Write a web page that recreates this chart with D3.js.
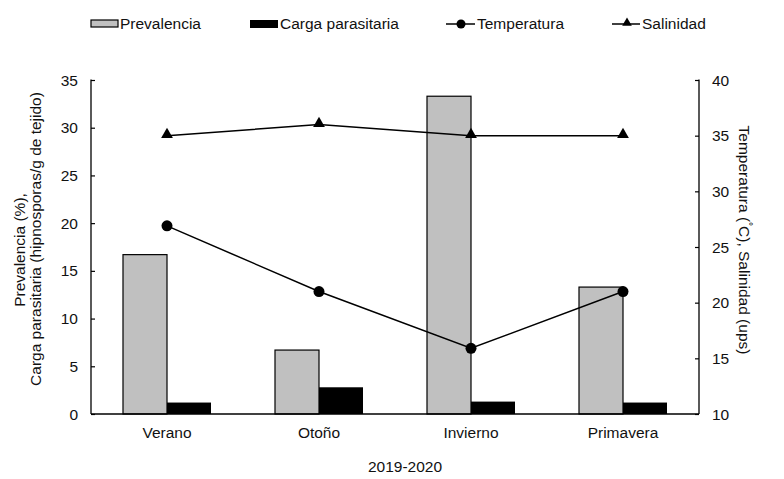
<html>
<head>
<script src="https://d3js.org/d3.v7.min.js"></script>
<style>
  body { margin: 0; background: #fff; }
  text { font-family: "Liberation Sans", Arial, sans-serif; fill: #111; }
</style>
</head>
<body>
<svg id="chart" width="784" height="479"></svg>
<script>
const estaciones = ["Verano", "Otoño", "Invierno", "Primavera"];
const prevalencia = [16.7, 6.7, 33.3, 13.3];
const carga = [1.2, 2.8, 1.3, 1.2];
const temperatura = [26.9, 21.0, 15.9, 21.0];
const salinidad = [35, 36, 35, 35];
const ticksIzq = [0, 5, 10, 15, 20, 25, 30, 35];
const ticksDer = [10, 15, 20, 25, 30, 35, 40];

const svg = d3.select("svg#chart");
const margin = { top: 80, right: 85, bottom: 65, left: 91 };
const width = +svg.attr("width");
const height = +svg.attr("height");
const x0 = margin.left, x1 = width - margin.right;
const y0 = height - margin.bottom, y1 = margin.top;

const xScale = d3.scaleBand().domain(estaciones).range([x0, x1])
    .paddingInner(64 / 152).paddingOuter(32 / 152);
const xSub = d3.scaleBand().domain(["prev", "carga"]).range([0, xScale.bandwidth()]);
const yLeft = d3.scaleLinear().domain([0, 35]).range([y0, y1]);
const yRight = d3.scaleLinear().domain([10, 40]).range([y0, y1]);
const cx = d => xScale(d) + xScale.bandwidth() / 2;

// bars
const g = svg.append("g");
g.selectAll("rect.prev").data(estaciones).join("rect")
    .attr("class", "prev")
    .attr("x", d => xScale(d) + xSub("prev"))
    .attr("width", xSub.bandwidth())
    .attr("y", (d, i) => yLeft(prevalencia[i]))
    .attr("height", (d, i) => y0 - yLeft(prevalencia[i]))
    .attr("fill", "#c0c0c0").attr("stroke", "#000").attr("stroke-width", 1.2);
g.selectAll("rect.carga").data(estaciones).join("rect")
    .attr("class", "carga")
    .attr("x", d => xScale(d) + xSub("carga"))
    .attr("width", xSub.bandwidth())
    .attr("y", (d, i) => yLeft(carga[i]))
    .attr("height", (d, i) => y0 - yLeft(carga[i]))
    .attr("fill", "#000");

// axes
const axL = svg.append("g").attr("transform", `translate(${x0},0)`)
    .call(d3.axisRight(yLeft).tickValues(ticksIzq).tickSize(4).tickFormat(""));
const axR = svg.append("g").attr("transform", `translate(${x1},0)`)
    .call(d3.axisLeft(yRight).tickValues(ticksDer).tickSize(4).tickFormat(""));
[axL, axR].forEach(a => {
  a.select(".domain").attr("stroke", "#000").attr("stroke-width", 1.3).attr("d", `M0,${y1 - 0.5}V${y0}`);
  a.selectAll(".tick line").attr("stroke", "#000").attr("stroke-width", 1.2);
});
svg.append("line").attr("x1", x0).attr("x2", x1).attr("y1", y0).attr("y2", y0)
    .attr("stroke", "#000").attr("stroke-width", 1.3);

svg.append("g").selectAll("text").data(ticksIzq).join("text")
    .attr("x", x0 - 13).attr("y", d => yLeft(d) + 5.5)
    .attr("text-anchor", "end").style("font-size", "15.5px").text(d => d);
svg.append("g").selectAll("text").data(ticksDer).join("text")
    .attr("x", x1 + 13).attr("y", d => yRight(d) + 5.5)
    .attr("text-anchor", "start").style("font-size", "15.5px").text(d => d);

svg.append("g").selectAll("text").data(estaciones).join("text")
    .attr("x", d => cx(d)).attr("y", y0 + 24)
    .attr("text-anchor", "middle").style("font-size", "15.5px").text(d => d);
svg.append("text").attr("x", 405).attr("y", 472).attr("text-anchor", "middle")
    .style("font-size", "15.5px").text("2019-2020");

// axis titles
svg.append("text").attr("transform", "translate(25,250) rotate(-90)")
    .attr("text-anchor", "middle").style("font-size", "15.5px").text("Prevalencia (%),");
svg.append("text").attr("transform", "translate(41,239) rotate(-90)")
    .attr("text-anchor", "middle").style("font-size", "15.5px")
    .text("Carga parasitaria (hipnosporas/g de tejido)");
const tr = svg.append("text").attr("transform", "translate(739,240) rotate(90)")
    .attr("text-anchor", "middle").style("font-size", "15.5px");
tr.append("tspan").text("Temperatura (");
tr.append("tspan").attr("dy", -6).style("font-size", "10px").text("°");
tr.append("tspan").attr("dy", 6).text("C), Salinidad  (ups)");

// lines
const lineT = d3.line().x((d, i) => cx(estaciones[i])).y(d => yRight(d));
svg.append("path").datum(temperatura).attr("d", lineT)
    .attr("fill", "none").attr("stroke", "#000").attr("stroke-width", 1.5);
svg.append("path").datum(salinidad).attr("d", lineT)
    .attr("fill", "none").attr("stroke", "#000").attr("stroke-width", 1.5);
svg.append("g").selectAll("circle").data(temperatura).join("circle")
    .attr("cx", (d, i) => cx(estaciones[i])).attr("cy", d => yRight(d))
    .attr("r", 5.5).attr("fill", "#000");
const tri = d3.symbol().type(d3.symbolTriangle).size(60);
svg.append("g").selectAll("path").data(salinidad).join("path")
    .attr("transform", (d, i) => `translate(${cx(estaciones[i])},${yRight(d) - 1})`)
    .attr("d", tri).attr("fill", "#000");

// legend
const leg = svg.append("g");
leg.append("rect").attr("x", 91).attr("y", 20).attr("width", 27).attr("height", 7)
    .attr("fill", "#c0c0c0").attr("stroke", "#000").attr("stroke-width", 1.2);
leg.append("text").attr("x", 120).attr("y", 29).style("font-size", "15.5px").text("Prevalencia");
leg.append("rect").attr("x", 250).attr("y", 20).attr("width", 28).attr("height", 8).attr("fill", "#000");
leg.append("text").attr("x", 280).attr("y", 29).style("font-size", "15.5px").text("Carga parasitaria");
leg.append("line").attr("x1", 446).attr("x2", 475).attr("y1", 24).attr("y2", 24)
    .attr("stroke", "#000").attr("stroke-width", 1.5);
leg.append("circle").attr("cx", 461).attr("cy", 24).attr("r", 4.5).attr("fill", "#000");
leg.append("text").attr("x", 477).attr("y", 29).style("font-size", "15.5px").text("Temperatura");
leg.append("line").attr("x1", 612).attr("x2", 640).attr("y1", 24).attr("y2", 24)
    .attr("stroke", "#000").attr("stroke-width", 1.5);
leg.append("path").attr("transform", "translate(627,23)")
    .attr("d", d3.symbol().type(d3.symbolTriangle).size(40)).attr("fill", "#000");
leg.append("text").attr("x", 642).attr("y", 29).style("font-size", "15.5px").text("Salinidad");
</script>
</body>
</html>
